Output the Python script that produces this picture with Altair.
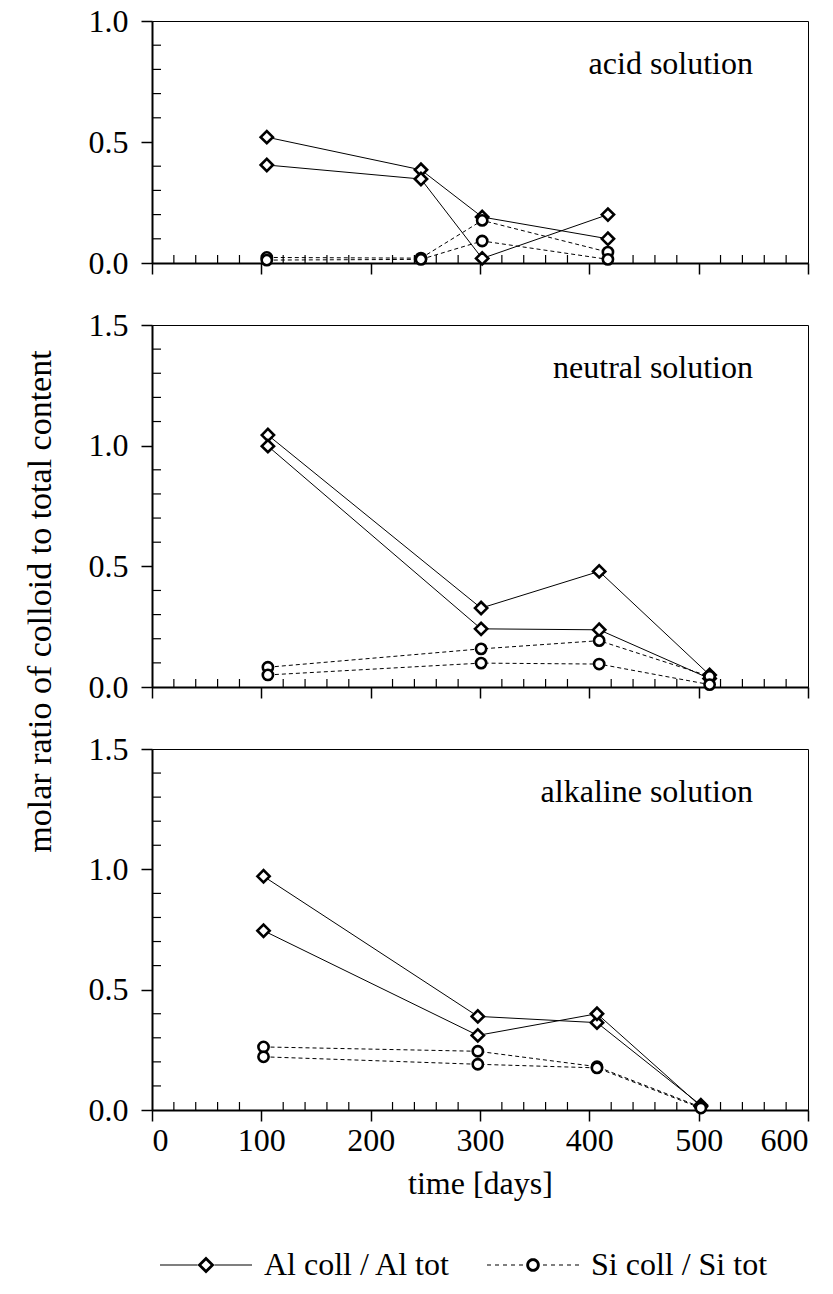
import altair as alt
import pandas as pd

# ---- measured series -------------------------------------------------------
acid_days = [105, 246, 302, 417]
acid_al_a = [0.52, 0.385, 0.19, 0.10]
acid_al_b = [0.405, 0.347, 0.019, 0.20]
acid_si_a = [0.023, 0.020, 0.176, 0.045]
acid_si_b = [0.012, 0.015, 0.091, 0.015]

neutral_days = [106, 301, 409, 510]
neutral_al_a = [1.044, 0.327, 0.479, 0.050]
neutral_al_b = [0.998, 0.241, 0.237, 0.035]
neutral_si_a = [0.082, 0.158, 0.192, 0.044]
neutral_si_b = [0.050, 0.099, 0.095, 0.010]

alkaline_days = [102, 298, 407, 502]
alkaline_al_a = [0.971, 0.389, 0.363, 0.020]
alkaline_al_b = [0.745, 0.310, 0.400, 0.015]
alkaline_si_a = [0.262, 0.244, 0.180, 0.012]
alkaline_si_b = [0.221, 0.190, 0.175, 0.008]

panel_labels = ["acid solution", "neutral solution", "alkaline solution"]
series_keys = ["Al coll / Al tot", "Si coll / Si tot"]

x_major = [0, 100, 200, 300, 400, 500, 600]
x_minor = [d for d in range(20, 600, 20) if d % 100]
y_major_short = [0.0, 0.5, 1.0]
y_major_tall = [0.0, 0.5, 1.0, 1.5]

FONT = "Liberation Serif"
W = 656


def frame(days, al_a, al_b, si_a, si_b):
    rows = []
    for kind, rep, vals in [("Al", "a", al_a), ("Al", "b", al_b),
                            ("Si", "a", si_a), ("Si", "b", si_b)]:
        for d, v in zip(days, vals):
            rows.append({"day": d, "ratio": v, "kind": kind, "rep": kind + rep})
    return pd.DataFrame(rows)


# ---- legend glyphs: line + marker, drawn as filled paths in unit space -----
U = 46.0  # half symbol width in px


def _u(px):
    return round(px / U, 4)


def _rect(x0, x1, h):
    return f"M{_u(x0)},{_u(-h)} L{_u(x1)},{_u(-h)} L{_u(x1)},{_u(h)} L{_u(x0)},{_u(h)} Z"


def _poly(pts):
    return "M" + " L".join(f"{_u(x)},{_u(y)}" for x, y in pts) + " Z"


def _ring_circle(ro, ri, n=28):
    import math
    outer = [(ro * math.cos(2 * math.pi * k / n), ro * math.sin(2 * math.pi * k / n)) for k in range(n)]
    inner = [(ri * math.cos(-2 * math.pi * k / n), ri * math.sin(-2 * math.pi * k / n)) for k in range(n)]
    return _poly(outer) + " " + _poly(inner)


ro_d, ri_d = 8.5, 4.6
al_glyph = " ".join([
    _rect(-U, -ro_d, 0.55), _rect(ro_d, U, 0.55),
    _poly([(0, -ro_d), (ro_d, 0), (0, ro_d), (-ro_d, 0)]),
    _poly([(0, -ri_d), (-ri_d, 0), (0, ri_d), (ri_d, 0)]),
])
ro_c, ri_c = 6.8, 3.9
dash_parts = []
for start in range(0, 40, 8):
    x0 = -U + start
    dash_parts.append(_rect(x0, x0 + 4, 0.55))
    dash_parts.append(_rect(-x0 - 4, -x0, 0.55))
si_glyph = " ".join(dash_parts + [_ring_circle(ro_c, ri_c)])


def panel(df, label, ymax, height, y_values, bottom=False, show_ytitle=False, legend=False):
    x_scale = alt.Scale(domain=[0, 600], nice=False)
    y_scale = alt.Scale(domain=[0, ymax], nice=False)
    x_axis = alt.Axis(
        values=x_major, grid=False, tickSize=11,
        labels=bottom, labelPadding=4,
        title="time [days]" if bottom else None,
        titlePadding=12,
    )
    y_axis = alt.Axis(
        values=y_values, format=".1f", grid=False, tickSize=11, labelPadding=13,
        title="molar ratio of colloid to total content" if show_ytitle else None,
        titleFontSize=34, titleX=-112, titleY=276, titleBaseline="middle",
    )
    base = alt.Chart(df).encode(
        x=alt.X("day:Q", scale=x_scale, axis=x_axis),
        y=alt.Y("ratio:Q", scale=y_scale, axis=y_axis),
        detail="rep:N",
    )
    al_line = base.transform_filter("datum.kind == 'Al'").mark_line(color="black", strokeWidth=1)
    si_line = base.transform_filter("datum.kind == 'Si'").mark_line(
        color="black", strokeWidth=1, strokeDash=[4, 3])
    al_pts = base.transform_filter("datum.kind == 'Al'").mark_point(
        shape="diamond", size=150, filled=True, fill="white", stroke="black",
        strokeWidth=2.6, opacity=1)
    si_pts = base.transform_filter("datum.kind == 'Si'").mark_point(
        shape="circle", size=105, filled=True, fill="white", stroke="black",
        strokeWidth=2.6, opacity=1)

    y_minor = [round(v / 10, 1) for v in range(1, int(ymax * 10)) if v % 5]
    ytick = alt.Chart(pd.DataFrame({"v": y_minor})).mark_rule(
        color="black", strokeWidth=1.2).encode(
        y=alt.Y("v:Q", scale=y_scale), x=alt.value(0), x2=alt.value(9))
    xtick = alt.Chart(pd.DataFrame({"d": x_minor})).mark_rule(
        color="black", strokeWidth=1.2).encode(
        x=alt.X("d:Q", scale=x_scale), y=alt.value(height), y2=alt.value(height - 8))
    text = alt.Chart(pd.DataFrame({"t": [label]})).mark_text(
        align="right", baseline="middle", font=FONT, fontSize=32, color="black").encode(
        text="t:N", x=alt.value(W - 55), y=alt.value(43))

    layers = [ytick, xtick, al_line, si_line, al_pts, si_pts, text]
    if legend:
        key = alt.Chart(pd.DataFrame({"k": series_keys})).transform_filter("false").mark_point(
            filled=True, color="black").encode(
            shape=alt.Shape("k:N", scale=alt.Scale(domain=series_keys, range=[al_glyph, si_glyph]),
                            legend=alt.Legend(
                                title=None, orient="none", direction="horizontal",
                                legendX=8, legendY=1198, symbolSize=(2 * U) ** 2,
                                symbolFillColor="black", symbolStrokeWidth=0,
                                labelFont=FONT, labelFontSize=32, labelColor="black",
                                labelOffset=12, columnPadding=36, symbolOpacity=1,
                                labelLimit=400)))
        layers.append(key)
    return alt.layer(*layers).properties(width=W, height=height)


top = panel(frame(acid_days, acid_al_a, acid_al_b, acid_si_a, acid_si_b),
            panel_labels[0], 1.0, 242, y_major_short)
mid = panel(frame(neutral_days, neutral_al_a, neutral_al_b, neutral_si_a, neutral_si_b),
            panel_labels[1], 1.5, 362, y_major_tall, show_ytitle=True)
bot = panel(frame(alkaline_days, alkaline_al_a, alkaline_al_b, alkaline_si_a, alkaline_si_b),
            panel_labels[2], 1.5, 361, y_major_tall, bottom=True, legend=True)

chart = alt.vconcat(top, mid, bot, spacing=62, bounds="flush").properties(
    padding={"left": 22, "top": 4, "right": 10, "bottom": 10}
).configure(font=FONT).configure_view(
    stroke="black", strokeWidth=1
).configure_axis(
    labelFont=FONT, titleFont=FONT, labelFontSize=32, titleFontSize=32,
    labelColor="black", titleColor="black", titleFontWeight="normal",
    domainColor="black", domainWidth=2, tickColor="black", tickWidth=1.5,
)

chart.save("out.html", embed_options={"renderer": "svg", "actions": False})
